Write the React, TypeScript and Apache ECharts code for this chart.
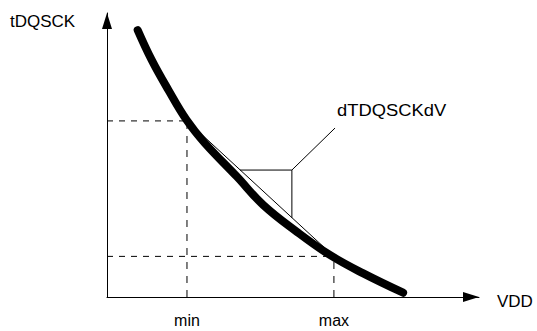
import React, { useEffect, useRef } from "react";
import * as echarts from "echarts";

// Curve tDQSCK(VDD), in relative units (axis 0..100)
const curveX = [8.25, 12.0, 16.5, 21.4, 26.3, 34.9, 42.0, 51.0, 59.9, 68.9, 79.6];
const curveY = [94.0, 83.5, 72.9, 62.3, 54.2, 42.4, 32.4, 23.0, 14.8, 8.3, 1.5];

// Operating limits
const limitNames = ["min", "max"];
const limitX = [21.5, 61.0];
const limitY = [62.0, 14.3];

// Slope triangle on the chord
const stepX = [35.75, 49.7];
const stepYTop = 44.7;
const stepYBottom = 27.9;

// Leader line to annotation
const leaderFrom = [49.7, 44.7];
const leaderTo = [61.3, 59.5];

const yName = "tDQSCK";
const xName = "VDD";
const slopeName = "dTDQSCKdV";

const FONT = "Liberation Sans, Arial, sans-serif";
const INK = "#000";

export default function App() {
  const ref = useRef<HTMLDivElement>(null);
  useEffect(() => {
    if (!ref.current) return;
    const chart = echarts.init(ref.current, undefined, { renderer: "svg" });

    const lineBase = {
      type: "line" as const,
      symbol: "none",
      silent: true,
      clip: false,
      animation: false,
    };

    const dashed: any[] = [];
    limitX.forEach((x, i) => {
      dashed.push({
        ...lineBase,
        data: [[0, limitY[i]], [x, limitY[i]]],
        lineStyle: { color: INK, width: 1, type: [6, 6] },
        z: 2,
      });
      dashed.push({
        ...lineBase,
        data: [[x, 0], [x, limitY[i]]],
        lineStyle: { color: INK, width: 1, type: [7, 7] },
        z: 2,
      });
    });

    chart.setOption({
      animation: false,
      grid: { left: 107, right: 58, top: 13, bottom: 34, containLabel: false },
      xAxis: {
        type: "value",
        min: 0,
        max: 100,
        splitLine: { show: false },
        axisTick: { show: false },
        axisLine: {
          show: true,
          lineStyle: { color: INK, width: 1 },
          symbol: ["none", "triangle"],
          symbolSize: [10, 16],
          symbolOffset: [0, -8],
        },
        axisLabel: {
          show: true,
          customValues: limitX,
          margin: 15,
          color: INK,
          fontFamily: FONT,
          fontSize: 16,
          formatter: (v: number) => {
            const i = limitX.indexOf(v);
            return i >= 0 ? limitNames[i] : "";
          },
        },
      },
      yAxis: {
        type: "value",
        min: 0,
        max: 100,
        splitLine: { show: false },
        axisTick: { show: false },
        axisLabel: { show: false },
        axisLine: {
          show: true,
          lineStyle: { color: INK, width: 1 },
          symbol: ["none", "triangle"],
          symbolSize: [10, 16],
          symbolOffset: [0, -8],
        },
      },
      graphic: [
        {
          type: "text",
          x: 10,
          y: 21,
          style: { text: yName, fill: INK, font: `17px ${FONT}`, align: "left", verticalAlign: "middle" },
        },
        {
          type: "text",
          x: 497,
          y: 301,
          style: { text: xName, fill: INK, font: `17px ${FONT}`, align: "left", verticalAlign: "middle" },
        },
        {
          type: "text",
          x: 337,
          y: 110,
          scaleX: 1.08,
          style: { text: slopeName, fill: INK, font: `17px ${FONT}`, align: "left", verticalAlign: "middle" },
        },
      ],
      series: [
        ...dashed,
        {
          ...lineBase,
          data: [[limitX[0], limitY[0]], [limitX[1], limitY[1]]],
          lineStyle: { color: INK, width: 1 },
          z: 3,
        },
        {
          ...lineBase,
          data: [[stepX[0], stepYTop], [stepX[1], stepYTop], [stepX[1], stepYBottom]],
          lineStyle: { color: INK, width: 1 },
          z: 3,
        },
        {
          ...lineBase,
          data: [leaderFrom, leaderTo],
          lineStyle: { color: INK, width: 1 },
          z: 3,
        },
        {
          ...lineBase,
          data: curveX.map((x, i) => [x, curveY[i]]),
          smooth: 0.4,
          lineStyle: { color: INK, width: 8, cap: "round", join: "round" },
          z: 5,
        },
      ],
    });
    return () => chart.dispose();
  }, []);
  return (
    <div
      ref={ref}
      style={{ position: "fixed", left: 0, top: 0, width: 537, height: 331, background: "#fff" }}
    />
  );
}
